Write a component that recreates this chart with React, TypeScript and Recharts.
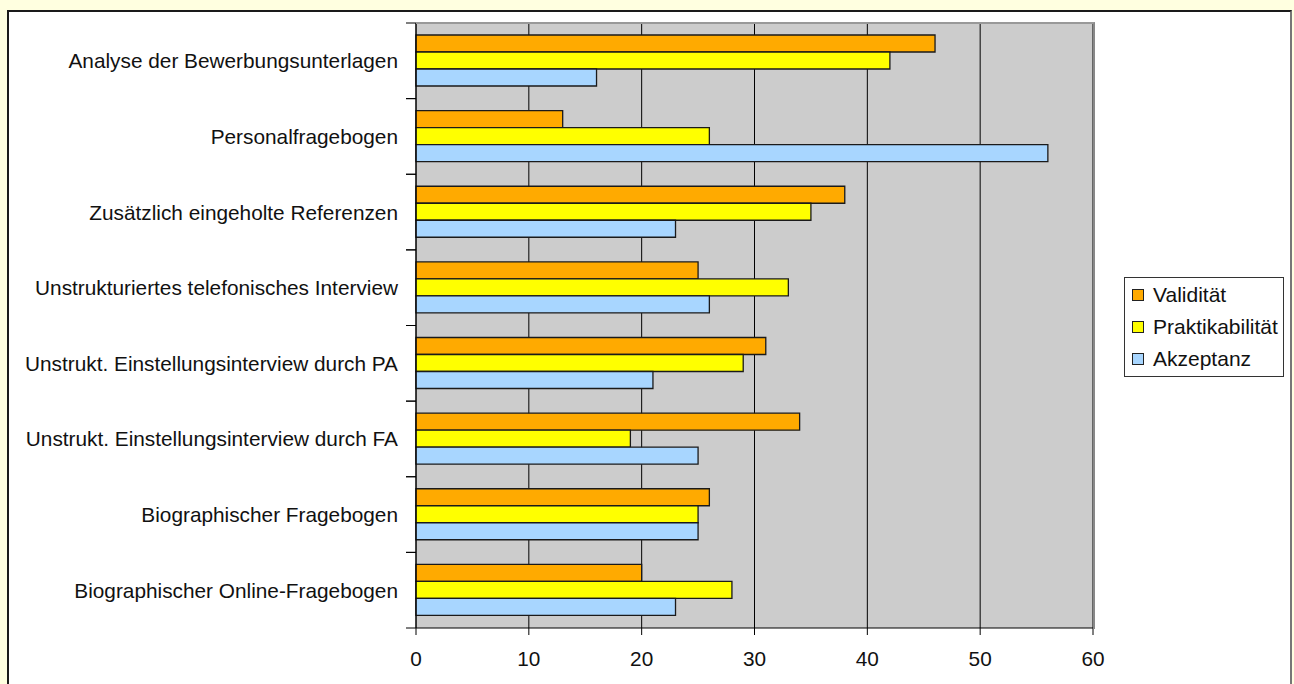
import React from 'react';
import {
  BarChart,
  Bar,
  XAxis,
  YAxis,
  CartesianGrid,
} from 'recharts';

const categories = [
  'Analyse der Bewerbungsunterlagen',
  'Personalfragebogen',
  'Zusätzlich eingeholte Referenzen',
  'Unstrukturiertes telefonisches Interview',
  'Unstrukt. Einstellungsinterview durch PA',
  'Unstrukt. Einstellungsinterview durch FA',
  'Biographischer Fragebogen',
  'Biographischer Online-Fragebogen',
];

const validitaet = [46, 13, 38, 25, 31, 34, 26, 20];
const praktikabilitaet = [42, 26, 35, 33, 29, 19, 25, 28];
const akzeptanz = [16, 56, 23, 26, 21, 25, 25, 23];

const xTicks = [0, 10, 20, 30, 40, 50, 60];

const series = [
  { key: 'validitaet', name: 'Validität', color: '#FFAA00' },
  { key: 'praktikabilitaet', name: 'Praktikabilität', color: '#FFFF00' },
  { key: 'akzeptanz', name: 'Akzeptanz', color: '#A8D6FF' },
];

const data = categories.map((name, i) => ({
  name,
  validitaet: validitaet[i],
  praktikabilitaet: praktikabilitaet[i],
  akzeptanz: akzeptanz[i],
}));

const FONT = '"Liberation Sans", Arial, sans-serif';
const FONT_SIZE = 20.8;
const CHART_W = 1294;
const CHART_H = 684;
const MARGIN = { top: 23, right: 201, bottom: 6, left: 0 };
const Y_AXIS_W = 416;
const X_AXIS_H = 50;
const PLOT_H = CHART_H - MARGIN.top - MARGIN.bottom - X_AXIS_H;
const BAND = PLOT_H / categories.length;

// category label plus the small tick marks on the band boundaries
const CategoryTick = (props: any) => {
  const { x, y, payload } = props;
  const axisX = x + 18;
  return (
    <g>
      <line x1={axisX - 10} x2={axisX} y1={y - BAND / 2} y2={y - BAND / 2} stroke="#000" />
      <line x1={axisX - 10} x2={axisX} y1={y + BAND / 2} y2={y + BAND / 2} stroke="#000" />
      <text
        x={x}
        y={y}
        textAnchor="end"
        dominantBaseline="central"
        fill="#111"
        fontSize={FONT_SIZE}
        fontFamily={FONT}
      >
        {payload.value}
      </text>
    </g>
  );
};

const LegendBox = () => (
  <div
    style={{
      position: 'absolute',
      left: 1124,
      top: 277,
      width: 160,
      boxSizing: 'border-box',
      border: '1px solid #333',
      background: '#fff',
      padding: '1px 0 1px 7px',
      fontFamily: FONT,
      fontSize: 21,
      color: '#111',
    }}
  >
    {series.map((s) => (
      <div key={s.key} style={{ display: 'flex', alignItems: 'center', height: 32 }}>
        <span
          style={{
            width: 10,
            height: 10,
            background: s.color,
            border: '1px solid #222',
            marginRight: 9,
            display: 'inline-block',
          }}
        />
        <span>{s.name}</span>
      </div>
    ))}
  </div>
);

export default function App() {
  return (
    <div
      style={{
        position: 'absolute',
        left: 0,
        top: 0,
        width: CHART_W,
        height: CHART_H,
        overflow: 'hidden',
        background: '#FFFFE0',
      }}
    >
      <div
        style={{
          position: 'absolute',
          left: 7,
          top: 10,
          width: 1281,
          height: 700,
          background: '#fff',
          borderLeft: '2px solid #1a1a1a',
          borderTop: '2px solid #1a1a1a',
          borderRight: '2px solid #777',
        }}
      />
      <div style={{ position: 'absolute', left: 0, top: 0 }}>
        <BarChart
          width={CHART_W}
          height={CHART_H}
          data={data}
          layout="vertical"
          margin={MARGIN}
          barGap={0}
          barSize={17}
        >
          <CartesianGrid horizontal={false} stroke="#000" fill="#CCCCCC" fillOpacity={1} />
          <XAxis
            type="number"
            domain={[0, 60]}
            ticks={xTicks}
            height={X_AXIS_H}
            tickSize={7}
            tickMargin={16}
            axisLine={{ stroke: '#000' }}
            tickLine={{ stroke: '#000' }}
            tick={{ fill: '#111', fontSize: FONT_SIZE, fontFamily: FONT }}
          />
          <YAxis
            type="category"
            dataKey="name"
            width={Y_AXIS_W}
            tickLine={false}
            tickSize={0}
            tickMargin={18}
            axisLine={{ stroke: '#000' }}
            tick={<CategoryTick />}
            interval={0}
          />
          {series.map((s) => (
            <Bar
              key={s.key}
              dataKey={s.key}
              name={s.name}
              fill={s.color}
              stroke="#1a1a1a"
              strokeWidth={1.3}
              isAnimationActive={false}
            />
          ))}
        </BarChart>
      </div>
      <div
        style={{
          position: 'absolute',
          left: 416,
          top: 22,
          width: 677,
          height: 605,
          borderTop: '2px solid #999',
          borderRight: '2px solid #888',
          pointerEvents: 'none',
        }}
      />
      <LegendBox />
    </div>
  );
}
